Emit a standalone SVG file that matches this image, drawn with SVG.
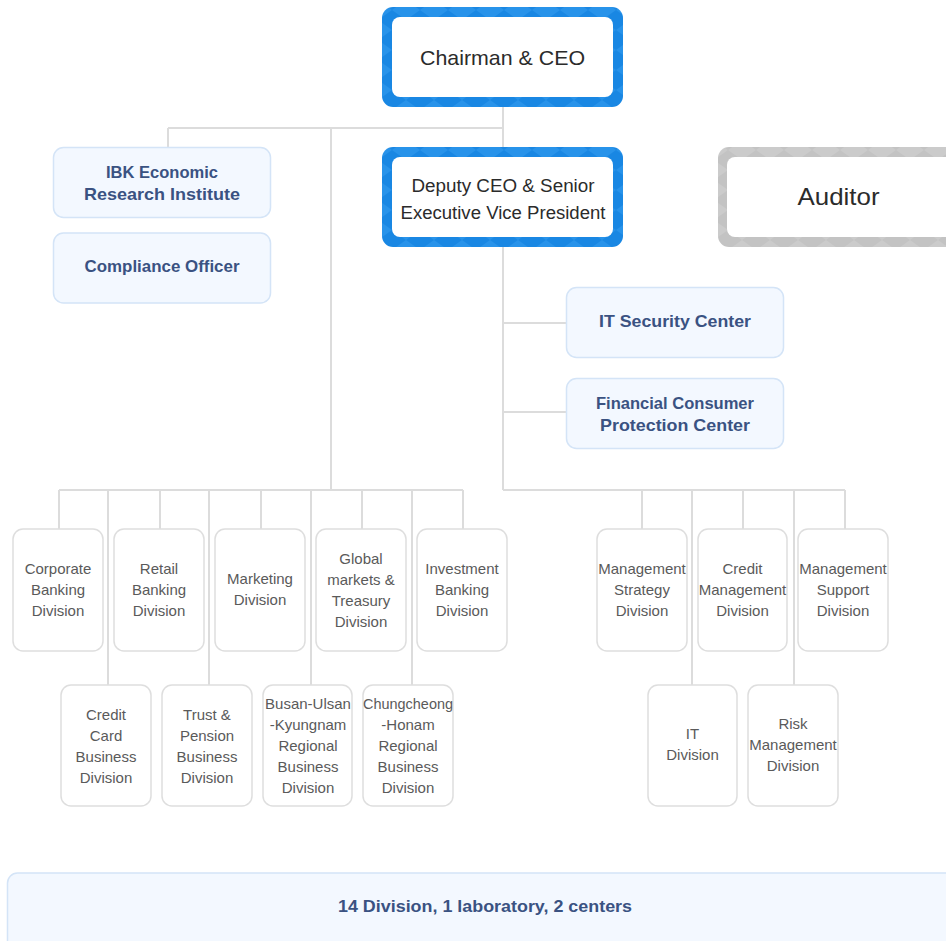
<svg xmlns="http://www.w3.org/2000/svg" width="946" height="941" viewBox="0 0 946 941">
  <defs>
    <!-- diamond texture for the executive frames -->
    <pattern id="diaBlue" width="28" height="20" patternUnits="userSpaceOnUse">
      <rect width="28" height="20" fill="#1987e3"/>
      <polygon points="14,0 28,10 14,20 0,10" fill="#2893ea"/>
    </pattern>
    <pattern id="diaGray" width="28" height="20" patternUnits="userSpaceOnUse">
      <rect width="28" height="20" fill="#c3c3c3"/>
      <polygon points="14,0 28,10 14,20 0,10" fill="#cbcbcb"/>
    </pattern>
    <style>
      .wire { stroke: #dcdcdc; stroke-width: 2; fill: none; }
      .inner { fill: #ffffff; }
      .unit { fill: #f3f8ff; stroke: #d4e4f7; stroke-width: 1.5; }
      .div { fill: #ffffff; stroke: #dedede; stroke-width: 1.5; }
      .exec { font-family: "Liberation Sans", Arial, sans-serif; fill: #2b2b2b; text-anchor: middle; }
      .ut { font-family: "Liberation Sans", Arial, sans-serif; font-weight: bold; font-size: 17px; fill: #3a5282; text-anchor: middle; }
      .dt { font-family: "Liberation Sans", Arial, sans-serif; font-size: 15px; fill: #5a5a5a; text-anchor: middle; }
    </style>
  </defs>

  <rect width="946" height="941" fill="#ffffff"/>

  <!-- connectors -->
  <g id="connectors">
    <path class="wire" d="M503 107 V147 M168 128 H503 M168 128 V147 M331 128 V490"/>
    <path class="wire" d="M59 490 H463 M59 490 V529 M160 490 V529 M261 490 V529 M362 490 V529 M463 490 V529"/>
    <path class="wire" d="M108 490 V685 M209 490 V685 M311 490 V685 M412 490 V685"/>
    <path class="wire" d="M503 247 V490 M503 323 H567 M503 412 H567"/>
    <path class="wire" d="M503 490 H845 M642 490 V529 M743 490 V529 M845 490 V529 M692 490 V685 M794 490 V685"/>
  </g>

  <!-- executive level -->
  <g id="chairman">
    <rect x="382" y="7" width="241" height="100" rx="11" fill="url(#diaBlue)"/>
    <rect class="inner" x="392" y="17" width="221" height="80" rx="8"/>
    <text class="exec" x="502.5" y="64.5" font-size="21" textLength="165" lengthAdjust="spacingAndGlyphs">Chairman &amp; CEO</text>
  </g>

  <g id="deputy">
    <rect x="382" y="147" width="241" height="100" rx="11" fill="url(#diaBlue)"/>
    <rect class="inner" x="392" y="157" width="221" height="80" rx="8"/>
    <text class="exec" x="503" y="192" font-size="18" textLength="183" lengthAdjust="spacingAndGlyphs">Deputy CEO &amp; Senior</text>
    <text class="exec" x="503" y="219" font-size="18" textLength="205" lengthAdjust="spacingAndGlyphs">Executive Vice President</text>
  </g>

  <g id="auditor">
    <rect x="718" y="147" width="250" height="100" rx="11" fill="url(#diaGray)"/>
    <rect class="inner" x="727" y="157" width="232" height="80" rx="8"/>
    <text class="exec" x="838.5" y="205" font-size="24" textLength="82" lengthAdjust="spacingAndGlyphs">Auditor</text>
  </g>

  <!-- staff units -->
  <g id="ibk-institute">
    <rect class="unit" x="53.5" y="147.5" width="217" height="70" rx="10"/>
    <text class="ut" x="162" y="178" textLength="112" lengthAdjust="spacingAndGlyphs">IBK Economic</text>
    <text class="ut" x="162" y="200" textLength="156" lengthAdjust="spacingAndGlyphs">Research Institute</text>
  </g>

  <g id="compliance">
    <rect class="unit" x="53.5" y="233" width="217" height="70" rx="10"/>
    <text class="ut" x="162" y="272" textLength="155" lengthAdjust="spacingAndGlyphs">Compliance Officer</text>
  </g>

  <g id="it-security">
    <rect class="unit" x="566.5" y="287.5" width="217" height="70" rx="10"/>
    <text class="ut" x="675" y="327" textLength="152" lengthAdjust="spacingAndGlyphs">IT Security Center</text>
  </g>

  <g id="consumer-protection">
    <rect class="unit" x="566.5" y="378.5" width="217" height="70" rx="10"/>
    <text class="ut" x="675" y="409" textLength="158" lengthAdjust="spacingAndGlyphs">Financial Consumer</text>
    <text class="ut" x="675" y="431" textLength="150" lengthAdjust="spacingAndGlyphs">Protection Center</text>
  </g>

  <!-- business divisions, first row -->
  <g id="corporate-banking">
    <rect class="div" x="13" y="529" width="90" height="122" rx="10"/>
    <text class="dt" x="58" y="574">Corporate</text>
    <text class="dt" x="58" y="595">Banking</text>
    <text class="dt" x="58" y="616">Division</text>
  </g>
  <g id="retail-banking">
    <rect class="div" x="114" y="529" width="90" height="122" rx="10"/>
    <text class="dt" x="159" y="574">Retail</text>
    <text class="dt" x="159" y="595">Banking</text>
    <text class="dt" x="159" y="616">Division</text>
  </g>
  <g id="marketing">
    <rect class="div" x="215" y="529" width="90" height="122" rx="10"/>
    <text class="dt" x="260" y="584">Marketing</text>
    <text class="dt" x="260" y="605">Division</text>
  </g>
  <g id="global-markets">
    <rect class="div" x="316" y="529" width="90" height="122" rx="10"/>
    <text class="dt" x="361" y="564">Global</text>
    <text class="dt" x="361" y="585">markets &amp;</text>
    <text class="dt" x="361" y="606">Treasury</text>
    <text class="dt" x="361" y="627">Division</text>
  </g>
  <g id="investment-banking">
    <rect class="div" x="417" y="529" width="90" height="122" rx="10"/>
    <text class="dt" x="462" y="574">Investment</text>
    <text class="dt" x="462" y="595">Banking</text>
    <text class="dt" x="462" y="616">Division</text>
  </g>

  <!-- business divisions, second row -->
  <g id="credit-card">
    <rect class="div" x="61" y="685" width="90" height="121" rx="10"/>
    <text class="dt" x="106" y="720">Credit</text>
    <text class="dt" x="106" y="741">Card</text>
    <text class="dt" x="106" y="762">Business</text>
    <text class="dt" x="106" y="783">Division</text>
  </g>
  <g id="trust-pension">
    <rect class="div" x="162" y="685" width="90" height="121" rx="10"/>
    <text class="dt" x="207" y="720">Trust &amp;</text>
    <text class="dt" x="207" y="741">Pension</text>
    <text class="dt" x="207" y="762">Business</text>
    <text class="dt" x="207" y="783">Division</text>
  </g>
  <g id="busan-ulsan">
    <rect class="div" x="263" y="685" width="89" height="121" rx="10"/>
    <text class="dt" x="308" y="709">Busan-Ulsan</text>
    <text class="dt" x="308" y="730">-Kyungnam</text>
    <text class="dt" x="308" y="751">Regional</text>
    <text class="dt" x="308" y="772">Business</text>
    <text class="dt" x="308" y="793">Division</text>
  </g>
  <g id="chungcheong-honam">
    <rect class="div" x="363" y="685" width="90" height="121" rx="10"/>
    <text class="dt" x="408" y="709" textLength="90" lengthAdjust="spacingAndGlyphs">Chungcheong</text>
    <text class="dt" x="408" y="730">-Honam</text>
    <text class="dt" x="408" y="751">Regional</text>
    <text class="dt" x="408" y="772">Business</text>
    <text class="dt" x="408" y="793">Division</text>
  </g>

  <!-- management divisions -->
  <g id="management-strategy">
    <rect class="div" x="597" y="529" width="90" height="122" rx="10"/>
    <text class="dt" x="642" y="574">Management</text>
    <text class="dt" x="642" y="595">Strategy</text>
    <text class="dt" x="642" y="616">Division</text>
  </g>
  <g id="credit-management">
    <rect class="div" x="698" y="529" width="89" height="122" rx="10"/>
    <text class="dt" x="742.5" y="574">Credit</text>
    <text class="dt" x="742.5" y="595">Management</text>
    <text class="dt" x="742.5" y="616">Division</text>
  </g>
  <g id="management-support">
    <rect class="div" x="798" y="529" width="90" height="122" rx="10"/>
    <text class="dt" x="843" y="574">Management</text>
    <text class="dt" x="843" y="595">Support</text>
    <text class="dt" x="843" y="616">Division</text>
  </g>
  <g id="it-division">
    <rect class="div" x="648" y="685" width="89" height="121" rx="10"/>
    <text class="dt" x="692.5" y="739">IT</text>
    <text class="dt" x="692.5" y="760">Division</text>
  </g>
  <g id="risk-management">
    <rect class="div" x="748" y="685" width="90" height="121" rx="10"/>
    <text class="dt" x="793" y="729">Risk</text>
    <text class="dt" x="793" y="750">Management</text>
    <text class="dt" x="793" y="771">Division</text>
  </g>

  <!-- organisation summary -->
  <g id="summary">
    <rect class="unit" x="7.5" y="873" width="960" height="80" rx="10"/>
    <text class="ut" x="485" y="912" textLength="294" lengthAdjust="spacingAndGlyphs">14 Division, 1 laboratory, 2 centers</text>
  </g>
</svg>
